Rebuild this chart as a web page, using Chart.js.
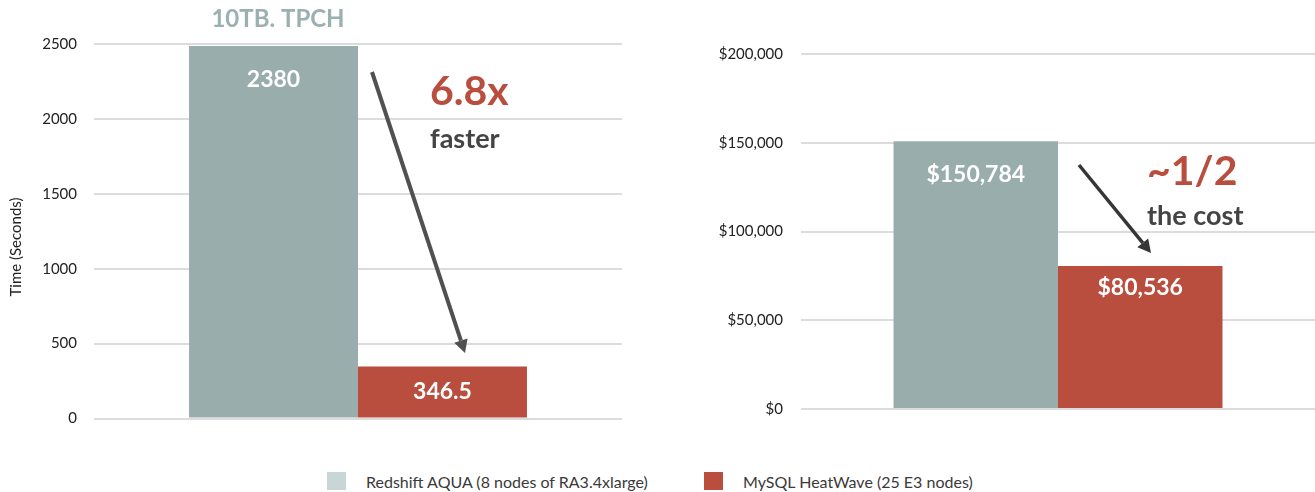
<!DOCTYPE html>
<html>
<head>
<meta charset="utf-8">
<script src="https://cdn.jsdelivr.net/npm/chart.js@4.4.0/dist/chart.umd.min.js"></script>
<style>
    body {
        margin: 0;
        background: #fff;
        width: 1315px;
        height: 492px;
        position: relative;
        overflow: hidden;
        font-family: Lato, "Open Sans", sans-serif;
    }
    #time-chart { position: absolute; left: 0; top: 0; }
    #cost-chart { position: absolute; left: 660px; top: 0; }
    .legend-item {
        position: absolute;
        top: 472px;
        height: 18px;
        display: flex;
        align-items: center;
        font-size: 16px;
        color: #3a3a3a;
        white-space: nowrap;
    }
    .legend-box { width: 19px; height: 18px; margin-right: 20px; }
</style>
</head>
<body>
<canvas id="time-chart" width="660" height="440"></canvas>
<canvas id="cost-chart" width="655" height="440"></canvas>
<div id="legend"></div>

<script>
// data
const seriesNames = ["Redshift AQUA (8 nodes of RA3.4xlarge)", "MySQL HeatWave (25 E3 nodes)"];
const timeCategories = ["10TB. TPCH"];
const timeValues = [2487, 346.5]; // grey bar is drawn up to ~2487 even though it is labelled 2380
const timeLabels = ["2380", "346.5"];
const timeTicks = [0, 500, 1000, 1500, 2000, 2500];
const costCategories = ["Cost"];
const costValues = [150784, 80536];
const costLabels = ["$150,784", "$80,536"];
const costTicks = [0, 50000, 100000, 150000, 200000];

const barColors = ["#9aadad", "#b94e3e"];
const legendColors = ["#c9d6d6", "#b94e3e"];
const fontName = "Lato, 'Open Sans', sans-serif";

// white value text inside each bar
const barText = {
    id: "barText",
    afterDatasetsDraw(chart, args, opts) {
        const ctx = chart.ctx;
        ctx.save();
        ctx.font = "bold 23px " + fontName;
        ctx.fillStyle = "#fff";
        ctx.textAlign = "center";
        ctx.textBaseline = "middle";
        chart.data.datasets.forEach((ds, i) => {
            const bar = chart.getDatasetMeta(i).data[0];
            const off = opts.offsets[i];
            const y = off === null ? (bar.y + bar.base) / 2 : bar.y + off;
            ctx.fillText(opts.texts[i], bar.x, y);
        });
        ctx.restore();
    },
};

function drawArrow(ctx, a) {
    const ang = Math.atan2(a.y2 - a.y1, a.x2 - a.x1);
    const bx = a.x2 - a.head * Math.cos(ang);
    const by = a.y2 - a.head * Math.sin(ang);
    ctx.strokeStyle = a.color;
    ctx.fillStyle = a.color;
    ctx.lineWidth = a.width;
    ctx.beginPath();
    ctx.moveTo(a.x1, a.y1);
    ctx.lineTo(bx, by);
    ctx.stroke();
    ctx.beginPath();
    ctx.moveTo(a.x2, a.y2);
    ctx.lineTo(bx + a.half * Math.sin(ang), by - a.half * Math.cos(ang));
    ctx.lineTo(bx - a.half * Math.sin(ang), by + a.half * Math.cos(ang));
    ctx.closePath();
    ctx.fill();
}

// callout texts, axis title and arrows
const notes = {
    id: "notes",
    afterDraw(chart, args, opts) {
        const ctx = chart.ctx;
        ctx.textBaseline = "alphabetic";
        for (const t of opts.texts) {
            ctx.save();
            ctx.font = t.font;
            ctx.fillStyle = t.color;
            ctx.textAlign = t.align || "left";
            ctx.translate(t.x, t.y);
            if (t.rotate) ctx.rotate(t.rotate);
            ctx.fillText(t.text, 0, 0);
            ctx.restore();
        }
        ctx.save();
        for (const a of opts.arrows) {
            drawArrow(ctx, a);
        }
        ctx.restore();
    },
};

function makeDatasets(values) {
    return values.map((v, i) => ({
        label: seriesNames[i],
        data: [v],
        backgroundColor: barColors[i],
        borderWidth: 0,
        categoryPercentage: 0.64,
        barPercentage: 1,
    }));
}

function yScale(ticks, axisWidth, tickPad, format) {
    return {
        min: ticks[0],
        max: ticks[ticks.length - 1],
        afterBuildTicks: (scale) => {
            scale.ticks = ticks.map((v) => ({ value: v }));
        },
        afterFit: (scale) => {
            scale.width = axisWidth;
            // the layout padding already leaves room for the end labels
            scale.paddingTop = 0;
            scale.paddingBottom = 0;
        },
        border: { display: false },
        grid: { color: "#dcdcdc", lineWidth: 2, drawTicks: false },
        ticks: {
            padding: tickPad,
            color: "#222",
            font: { family: fontName, size: 15 },
            callback: format,
        },
    };
}

new Chart(document.getElementById("time-chart"), {
    type: "bar",
    data: { labels: timeCategories, datasets: makeDatasets(timeValues) },
    options: {
        responsive: false,
        animation: false,
        layout: { padding: { top: 44, bottom: 21.5, left: 0, right: 38 } },
        scales: {
            x: { display: false },
            y: yScale(timeTicks, 94, 17, (v) => v),
        },
        plugins: {
            legend: { display: false },
            tooltip: { enabled: false },
            barText: { texts: timeLabels, offsets: [34, null] },
            notes: {
                texts: [
                    { text: "Time (Seconds)", x: 21, y: 247, align: "center", rotate: -Math.PI / 2, font: "15px " + fontName, color: "#222" },
                    { text: "10TB. TPCH", x: 278, y: 27, align: "center", font: "bold 24px " + fontName, color: "#9bb0b0" },
                    { text: "6.8x", x: 430, y: 105, font: "bold 41px " + fontName, color: "#b94e3e" },
                    { text: "faster", x: 430, y: 148, font: "bold 27px " + fontName, color: "#444" },
                ],
                arrows: [
                    { x1: 372, y1: 72, x2: 465, y2: 353, width: 4, head: 13, half: 7, color: "#505050" },
                ],
            },
        },
    },
    plugins: [barText, notes],
});

new Chart(document.getElementById("cost-chart"), {
    type: "bar",
    data: { labels: costCategories, datasets: makeDatasets(costValues) },
    options: {
        responsive: false,
        animation: false,
        layout: { padding: { top: 54, bottom: 31, left: 0, right: 0 } },
        scales: {
            x: { display: false },
            y: yScale(costTicks, 141, 18, (v) => "$" + v.toLocaleString("en-US")),
        },
        plugins: {
            legend: { display: false },
            tooltip: { enabled: false },
            barText: { texts: costLabels, offsets: [33, 22] },
            notes: {
                texts: [
                    { text: "~1/2", x: 487, y: 185, font: "bold 41px " + fontName, color: "#b94e3e" },
                    { text: "the cost", x: 487, y: 225, font: "bold 27px " + fontName, color: "#444" },
                ],
                arrows: [
                    { x1: 419, y1: 165, x2: 491, y2: 253, width: 3.5, head: 13, half: 7, color: "#363636" },
                ],
            },
        },
    },
    plugins: [barText, notes],
});

// shared legend under both charts
const legendLefts = [327, 704];
const legend = document.getElementById("legend");
seriesNames.forEach((name, i) => {
    const item = document.createElement("div");
    item.className = "legend-item";
    item.style.left = legendLefts[i] + "px";
    const box = document.createElement("span");
    box.className = "legend-box";
    box.style.background = legendColors[i];
    const label = document.createElement("span");
    label.innerText = name;
    item.appendChild(box);
    item.appendChild(label);
    legend.appendChild(item);
});
</script>
</body>
</html>
